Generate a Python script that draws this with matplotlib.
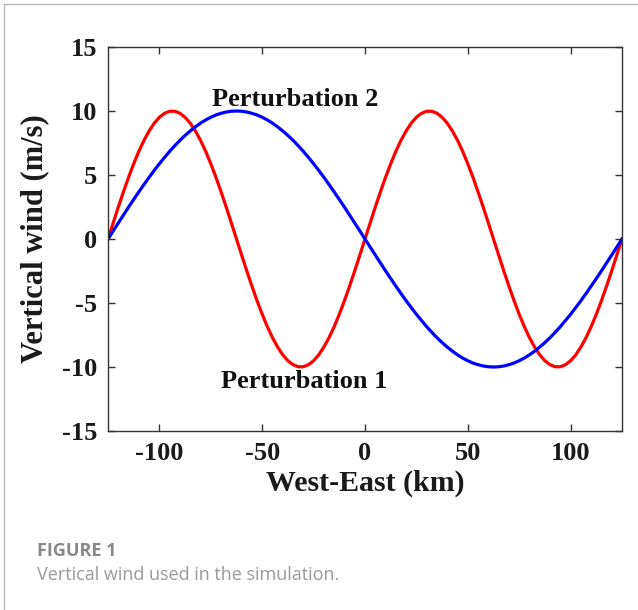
import numpy as np
import matplotlib
matplotlib.use('Agg')
import matplotlib.pyplot as plt
from matplotlib.lines import Line2D

plt.rcParams['axes.unicode_minus'] = False

# distance west-east (km), every 2.5 km
distance_km = np.arange(-125, 125.1, 2.5)

# perturbation 1 (red)
pert1 = [0, 1.25, 2.49, 3.68, 4.82, 5.88, 6.85, 7.71, 8.44, 9.05, 9.51, 9.82, 9.98,
         9.98, 9.82, 9.51, 9.05, 8.44, 7.71, 6.85, 5.88, 4.82, 3.68, 2.49, 1.25,
         0, -1.25, -2.49, -3.68, -4.82, -5.88, -6.85, -7.71, -8.44, -9.05, -9.51, -9.82, -9.98,
         -9.98, -9.82, -9.51, -9.05, -8.44, -7.71, -6.85, -5.88, -4.82, -3.68, -2.49, -1.25,
         0, 1.25, 2.49, 3.68, 4.82, 5.88, 6.85, 7.71, 8.44, 9.05, 9.51, 9.82, 9.98,
         9.98, 9.82, 9.51, 9.05, 8.44, 7.71, 6.85, 5.88, 4.82, 3.68, 2.49, 1.25,
         0, -1.25, -2.49, -3.68, -4.82, -5.88, -6.85, -7.71, -8.44, -9.05, -9.51, -9.82, -9.98,
         -9.98, -9.82, -9.51, -9.05, -8.44, -7.71, -6.85, -5.88, -4.82, -3.68, -2.49, -1.25,
         0]

# perturbation 2 (blue)
pert2 = [0, 0.63, 1.25, 1.87, 2.49, 3.09, 3.68, 4.26, 4.82, 5.36, 5.88, 6.37, 6.85,
         7.29, 7.71, 8.09, 8.44, 8.76, 9.05, 9.30, 9.51, 9.69, 9.82, 9.92, 9.98, 10.0,
         9.98, 9.92, 9.82, 9.69, 9.51, 9.30, 9.05, 8.76, 8.44, 8.09, 7.71, 7.29,
         6.85, 6.37, 5.88, 5.36, 4.82, 4.26, 3.68, 3.09, 2.49, 1.87, 1.25, 0.63, 0,
         -0.63, -1.25, -1.87, -2.49, -3.09, -3.68, -4.26, -4.82, -5.36, -5.88, -6.37, -6.85,
         -7.29, -7.71, -8.09, -8.44, -8.76, -9.05, -9.30, -9.51, -9.69, -9.82, -9.92, -9.98, -10.0,
         -9.98, -9.92, -9.82, -9.69, -9.51, -9.30, -9.05, -8.76, -8.44, -8.09, -7.71, -7.29,
         -6.85, -6.37, -5.88, -5.36, -4.82, -4.26, -3.68, -3.09, -2.49, -1.87, -1.25, -0.63, 0]

xticks = [-100, -50, 0, 50, 100]
yticks = [-15, -10, -5, 0, 5, 10, 15]

serif = 'Liberation Serif'
axis_col = '#333333'

fig = plt.figure(figsize=(6.38, 6.10), dpi=100)
ax = fig.add_axes([108 / 638, 1 - 431 / 610, 514 / 638, 384 / 610])

ax.plot(distance_km, pert1, color='#ff0000', lw=2.3, solid_joinstyle='round')
ax.plot(distance_km, pert2, color='#0000ff', lw=2.3, solid_joinstyle='round')

ax.set(xlim=(-125, 125), ylim=(-15, 15), xticks=xticks, yticks=yticks)
ax.tick_params(direction='in', length=5, width=1, top=True, right=True,
               colors=axis_col, labelcolor='#1a1a1a', labelsize=19, pad=8)
for lab in ax.get_xticklabels() + ax.get_yticklabels():
    lab.set_fontfamily(serif)
    lab.set_fontweight('bold')
for s in ax.spines.values():
    s.set_color(axis_col)
    s.set_linewidth(1)

ax.set_xlabel('West-East (km)', fontfamily=serif, fontweight='bold', fontsize=21.5,
              color='#1a1a1a', labelpad=3)
ax.set_ylabel('Vertical wind (m/s)', fontfamily=serif, fontweight='bold', fontsize=22,
              color='#1a1a1a', labelpad=9)

ax.text(-34, 10.9, 'Perturbation 2', ha='center', va='center', fontfamily=serif,
        fontweight='bold', fontsize=19, color='#111111')
ax.text(-29.5, -11.1, 'Perturbation 1', ha='center', va='center', fontfamily=serif,
        fontweight='bold', fontsize=19, color='#111111')

# frame lines of the page
fig.add_artist(Line2D([4 / 638, 1], [1 - 4 / 610] * 2, color='#bbbbbb', lw=1))
fig.add_artist(Line2D([4 / 638] * 2, [0, 1 - 4 / 610], color='#bbbbbb', lw=1))

fig.text(37 / 638, 1 - 551 / 610, 'FIGURE 1', fontfamily='Open Sans', fontweight='bold',
         fontsize=13, color='#888888', va='center', ha='left')
fig.text(37 / 638, 1 - 575 / 610, 'Vertical wind used in the simulation.',
         fontfamily='Open Sans', fontsize=13, color='#999999', va='center', ha='left')

fig.savefig('out.png', dpi=100)
